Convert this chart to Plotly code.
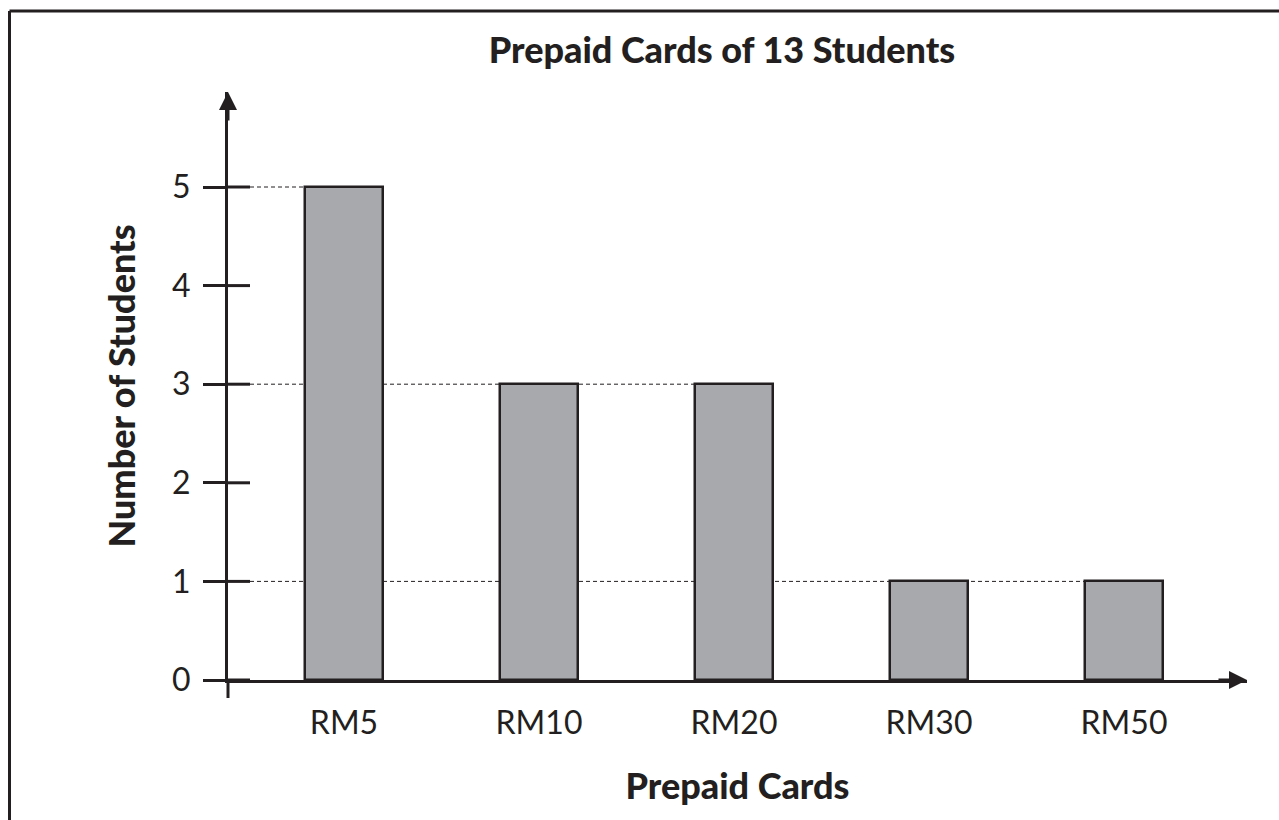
import plotly.graph_objects as go

# ---- data ----
categories = ["RM5", "RM10", "RM20", "RM30", "RM50"]
students = [5, 3, 3, 1, 1]
y_ticks = [0, 1, 2, 3, 4, 5]
title_text = "Prepaid Cards of 13 Students"
x_title = "Prepaid Cards"
y_title = "Number of Students"

# ---- style / layout constants ----
INK = "#231f20"
BAR = "#a7a9ac"
W, H = 1279, 820
L, R, T, B = 228, 32, 92, 140
PX_PER_X = 195.0          # pixels per category step
PX_PER_Y = 98.6           # pixels per student
FIRST_CENTER_PX = 344     # pixel position of first bar centre
BAR_WIDTH = 0.4
TICK_LEN = 22

plot_w = W - L - R
plot_h = H - T - B
x_left = (L - FIRST_CENTER_PX) / PX_PER_X
x_right = x_left + plot_w / PX_PER_X
y_top = plot_h / PX_PER_Y

positions = list(range(len(categories)))

fig = go.Figure()
fig.add_trace(go.Bar(
    x=positions, y=students, width=BAR_WIDTH,
    marker=dict(color=BAR, line=dict(color=INK, width=2.5)),
    hoverinfo="skip", showlegend=False,
))

shapes = []
tick_units = TICK_LEN / PX_PER_X
# dashed guide lines from y-axis tick to the last bar with that value
for v in sorted(set(students)):
    if v <= 0:
        continue
    last = max(i for i, s in enumerate(students) if s == v)
    shapes.append(dict(type="line", xref="x", yref="y", layer="below",
                       x0=x_left + tick_units, x1=positions[last] - BAR_WIDTH / 2,
                       y0=v, y1=v, line=dict(color=INK, width=1, dash="4px,3px")))

# inner half of the crossing y ticks
for t in y_ticks:
    shapes.append(dict(type="line", xref="x", yref="y", layer="above",
                       x0=x_left, x1=x_left + tick_units, y0=t, y1=t,
                       line=dict(color=INK, width=3)))

# y-axis stub below zero
shapes.append(dict(type="line", xref="paper", yref="paper",
                   x0=0, x1=0, y0=0, y1=-18 / plot_h,
                   line=dict(color=INK, width=3)))

# outer frame (top and left edges)
fx = (9.5 - L) / plot_w
fy = (H - B - 11) / plot_h
shapes.append(dict(type="line", xref="paper", yref="paper",
                   x0=fx, x1=(W - L) / plot_w, y0=fy, y1=fy,
                   line=dict(color=INK, width=3)))
shapes.append(dict(type="line", xref="paper", yref="paper",
                   x0=fx, x1=fx, y0=fy, y1=-B / plot_h,
                   line=dict(color=INK, width=3)))

annotations = [
    dict(xref="paper", yref="paper", x=0, y=1, ax=0, ay=30, axref="pixel", ayref="pixel",
         text="", showarrow=True, arrowhead=2, arrowsize=1.2, arrowwidth=3, arrowcolor=INK),
    dict(xref="paper", yref="paper", x=1, y=0, ax=-30, ay=0, axref="pixel", ayref="pixel",
         text="", showarrow=True, arrowhead=2, arrowsize=1.2, arrowwidth=3, arrowcolor=INK),
]

LABEL_FONT = dict(family="Lato, Roboto, sans-serif", size=32, color=INK)
BOLD_FONT = dict(family="Lato, Roboto, sans-serif", size=36, color=INK, weight=900)

fig.update_layout(
    width=W, height=H,
    margin=dict(l=L, r=R, t=T, b=B, autoexpand=False),
    paper_bgcolor="white", plot_bgcolor="white",
    bargap=0,
    title=dict(text=title_text, x=722 / W, xref="container", xanchor="center",
               y=1 - 50 / H, yref="container", yanchor="middle", font=BOLD_FONT),
    xaxis=dict(range=[x_left, x_right], tickvals=positions, ticktext=categories,
               showline=True, linecolor=INK, linewidth=3, showgrid=False, zeroline=False,
               ticks="", tickfont=LABEL_FONT, ticklabelstandoff=13,
               title=dict(text=x_title, font=BOLD_FONT, standoff=34)),
    yaxis=dict(range=[0, y_top], tickvals=y_ticks, ticktext=[str(t) for t in y_ticks],
               showline=True, linecolor=INK, linewidth=3, showgrid=False, zeroline=False,
               ticks="outside", ticklen=TICK_LEN, tickwidth=3, tickcolor=INK,
               tickfont=LABEL_FONT, ticklabelstandoff=6,
               title=dict(text=y_title, font=BOLD_FONT, standoff=26)),
    shapes=shapes, annotations=annotations,
)

fig.write_html("out.html", config={"displayModeBar": False},
               post_script="document.body.style.margin='0px';")
